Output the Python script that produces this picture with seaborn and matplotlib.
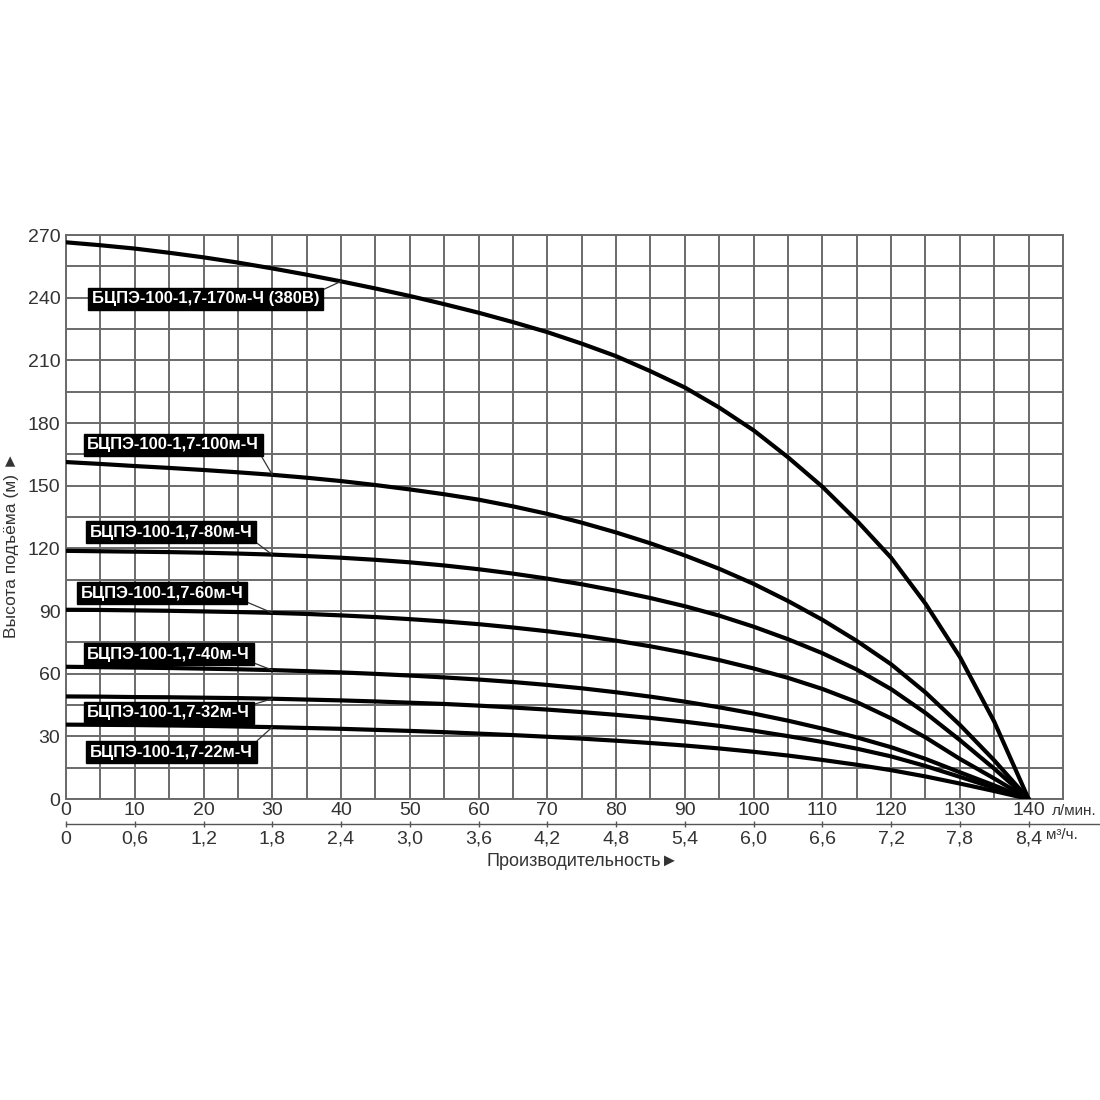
import matplotlib
matplotlib.use("Agg")
import matplotlib.pyplot as plt
import numpy as np
import pandas as pd
import seaborn as sns

# flow, l/min (one reading every 5 l/min)
FLOW = list(range(0, 145, 5))

MODELS = [
    "БЦПЭ-100-1,7-170м-Ч (380В)",
    "БЦПЭ-100-1,7-100м-Ч",
    "БЦПЭ-100-1,7-80м-Ч",
    "БЦПЭ-100-1,7-60м-Ч",
    "БЦПЭ-100-1,7-40м-Ч",
    "БЦПЭ-100-1,7-32м-Ч",
    "БЦПЭ-100-1,7-22м-Ч",
]

HEAD_170 = [266.5, 265.1, 263.5, 261.5, 259.3, 256.8, 254.0, 251.0, 247.8,
            244.4, 240.8, 236.9, 232.8, 228.3, 223.5, 218.0, 212.0, 204.8,
            197.0, 187.4, 176.5, 163.6, 149.5, 133.3, 115.5, 93.5, 68.0,
            37.0, 0.0]
HEAD_100 = [161.3, 160.4, 159.4, 158.5, 157.5, 156.4, 155.2, 153.8, 152.2,
            150.3, 148.2, 145.9, 143.3, 140.1, 136.5, 132.3, 127.6, 122.4,
            116.6, 110.2, 103.0, 94.8, 85.8, 75.7, 64.5, 51.0, 35.5, 18.5,
            0.0]
HEAD_80 = [118.8, 118.6, 118.4, 118.2, 117.9, 117.5, 117.0, 116.3, 115.5,
           114.5, 113.3, 111.8, 110.0, 107.9, 105.5, 102.8, 99.7, 96.2, 92.3,
           87.8, 82.5, 76.5, 69.8, 62.0, 52.6, 41.2, 28.2, 14.5, 0.0]
HEAD_60 = [90.6, 90.5, 90.3, 90.1, 89.8, 89.5, 89.1, 88.6, 87.9, 87.1, 86.1,
           85.0, 83.7, 82.1, 80.3, 78.2, 75.8, 73.1, 70.0, 66.5, 62.5, 58.0,
           52.7, 46.4, 38.6, 29.5, 19.2, 9.8, 0.0]
HEAD_40 = [63.3, 63.1, 62.9, 62.7, 62.4, 62.1, 61.7, 61.2, 60.6, 59.9, 59.1,
           58.2, 57.2, 56.0, 54.6, 53.0, 51.1, 49.0, 46.6, 43.9, 40.9, 37.5,
           33.7, 29.5, 24.8, 19.2, 12.8, 6.5, 0.0]
HEAD_32 = [49.1, 49.0, 48.8, 48.7, 48.5, 48.3, 48.0, 47.6, 47.2, 46.7, 46.1,
           45.5, 44.7, 43.8, 42.8, 41.6, 40.3, 38.8, 37.0, 35.0, 32.7, 30.1,
           27.3, 24.1, 20.4, 15.8, 10.6, 5.3, 0.0]
HEAD_22 = [35.6, 35.5, 35.4, 35.2, 35.0, 34.7, 34.4, 34.0, 33.6, 33.1, 32.6,
           32.0, 31.3, 30.6, 29.8, 28.9, 27.9, 26.8, 25.6, 24.2, 22.6, 20.8,
           18.7, 16.4, 13.8, 10.8, 7.4, 3.8, 0.0]

HEADS = [HEAD_170, HEAD_100, HEAD_80, HEAD_60, HEAD_40, HEAD_32, HEAD_22]

Y_TICKS = list(range(0, 271, 30))
X_TICKS = list(range(0, 141, 10))
M3_TICKS = [0, 0.6, 1.2, 1.8, 2.4, 3.0, 3.6, 4.2, 4.8, 5.4, 6.0, 6.6, 7.2,
            7.8, 8.4]
M3_LABELS = ["0", "0,6", "1,2", "1,8", "2,4", "3,0", "3,6", "4,2", "4,8",
             "5,4", "6,0", "6,6", "7,2", "7,8", "8,4"]

# label placement (text left x, centre y), FLOW index the leader goes to,
# and the corner of the box the leader starts from
LABEL_POS = [(3.8, 239.5), (3.1, 169.5), (3.4, 127.8), (2.1, 98.6),
             (3.1, 69.4), (3.1, 41.2), (3.5, 22.5)]
LEADER_IDX = [8, 6, 6, 6, 6, 6, 6]
LEADER_FROM = [(1, 1), (1, 0), (1, 0), (1, 0), (1, 0), (1, 1), (1, 1)]

sns.set_theme(style="white")
plt.rcParams["font.family"] = ["Liberation Sans", "DejaVu Sans"]

W = 1100
fig = plt.figure(figsize=(11, 11), dpi=100)
ax = fig.add_axes([66 / W, 1 - 799 / W, (1063 - 66) / W, (799 - 235) / W])

rows = []
for name, heads in zip(MODELS, HEADS):
    for q, h in zip(FLOW, heads):
        rows.append({"model": name, "flow": q, "head": h})
df = pd.DataFrame(rows)

sns.lineplot(data=df, x="flow", y="head", hue="model",
             palette=["black"] * len(MODELS), legend=False,
             estimator=None, sort=False, linewidth=3.0, ax=ax, zorder=3)
for line in ax.lines:
    line.set_solid_joinstyle("round")

ax.set_xlim(0, 145)
ax.set_ylim(0, 270)
ax.set_xticks(X_TICKS)
ax.set_xticks(np.arange(5, 146, 10), minor=True)
ax.set_yticks(Y_TICKS)
ax.set_yticks(np.arange(15, 270, 30), minor=True)
ax.grid(which="both", color="#6a6a6a", linewidth=1.4)
ax.set_axisbelow(True)
for sp in ax.spines.values():
    sp.set_color("#6a6a6a")
    sp.set_linewidth(1.4)
ax.tick_params(which="both", length=0)
ax.tick_params(axis="x", pad=2, labelsize=14, labelcolor="#333333")
ax.tick_params(axis="y", pad=4, labelsize=14, labelcolor="#333333")
ax.set_xlabel("")
ax.set_ylabel("")

# second flow scale, m3/h
sec = ax.secondary_xaxis(-0.045, functions=(lambda q: q * 0.06,
                                             lambda m: m / 0.06))
sec.set_xticks(M3_TICKS, labels=M3_LABELS)
sec.tick_params(length=5, width=1.0, direction="inout", color="#555555",
                pad=2, labelsize=14, labelcolor="#333333")
sec.spines["bottom"].set_color("#555555")
sec.spines["bottom"].set_linewidth(1.0)
ax.plot([1, 1.04], [-0.045, -0.045], transform=ax.transAxes,
        color="#555555", lw=1.0, clip_on=False)

fig.text(1052 / W, 1 - 811 / W, "л/мин.", fontsize=11, color="#333333",
         ha="left", va="center")
fig.text(1046 / W, 1 - 835 / W, "м³/ч.", fontsize=11, color="#333333",
         ha="left", va="center")
fig.text(583 / W, 1 - 862 / W, "Производительность►", fontsize=13,
         color="#333333", ha="center", va="center")
fig.text(12 / W, 1 - 545 / W, "Высота подъёма (м) ►", fontsize=12.5,
         color="#333333", ha="center", va="center", rotation=90)

for name, heads, pos, i, rel in zip(MODELS, HEADS, LABEL_POS, LEADER_IDX,
                                    LEADER_FROM):
    ax.annotate(name, xy=(FLOW[i], heads[i]), xytext=pos,
                ha="left", va="center", color="white", fontsize=12,
                fontweight="bold", zorder=5,
                bbox=dict(boxstyle="square,pad=0.22", fc="black", ec="black"),
                arrowprops=dict(arrowstyle="-", color="#333333", lw=0.9,
                                shrinkA=0, shrinkB=0, relpos=rel))

fig.savefig("out.png", dpi=100, facecolor="white")
